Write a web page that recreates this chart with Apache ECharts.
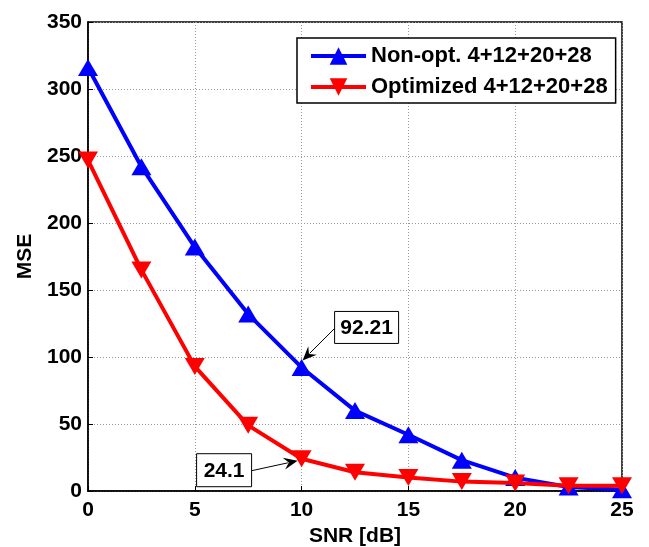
<!DOCTYPE html>
<html><head><meta charset="utf-8">
<script src="https://cdn.jsdelivr.net/npm/echarts@6/dist/echarts.min.js"></script>
<style>html,body{margin:0;padding:0;background:#fff}#c{width:649px;height:547px}</style>
</head><body><div id="c"></div>
<script>
const snr = [0, 2.5, 5, 7.5, 10, 12.5, 15, 17.5, 20, 22.5, 25];
const nonOpt = [316, 242, 182, 132, 92.21, 60, 42, 23, 10, 3, 1];
const optimized = [247, 165, 93, 49, 24.1, 14, 10, 7, 6, 4, 4];
const seriesNames = ['Non-opt. 4+12+20+28', 'Optimized 4+12+20+28'];
const xTicks = {min: 0, max: 25, interval: 5};
const yTicks = {min: 0, max: 350, interval: 50};
const annotations = [
  {x: 10, y: 92.21, text: '92.21'},
  {x: 10, y: 24.1, text: '24.1'}
];

const FONT = 'Liberation Sans, Arial, sans-serif';
const chart = echarts.init(document.getElementById('c'), null, {renderer: 'canvas'});
const pair = (xs, ys) => xs.map((x, i) => [x, ys[i]]);
const axisCommon = {
  axisLine: {show: true, onZero: false, lineStyle: {color: '#000', width: 1.5}},
  axisTick: {show: true, inside: true, length: 5, lineStyle: {color: '#000'}},
  splitLine: {show: true, lineStyle: {color: '#999', type: [1, 2], width: 1}}
};
const nameStyle = {color: '#000', fontFamily: FONT, fontWeight: 'bold', fontSize: 21};
chart.setOption({
  animation: false,
  backgroundColor: '#fff',
  grid: {left: 88, right: 27, top: 22, bottom: 56, containLabel: false, outerBoundsMode: 'none',
    show: true, borderColor: '#000', borderWidth: 1.5, backgroundColor: 'transparent'},
  xAxis: Object.assign({type: 'value', min: xTicks.min, max: xTicks.max, interval: xTicks.interval,
    name: 'SNR [dB]', nameLocation: 'middle', nameGap: 33, nameTextStyle: nameStyle}, axisCommon,
    {axisLabel: {color: '#000', fontFamily: FONT, fontWeight: 'bold', fontSize: 21, margin: 9}}),
  yAxis: Object.assign({type: 'value', min: yTicks.min, max: yTicks.max, interval: yTicks.interval,
    name: 'MSE', nameLocation: 'middle', nameGap: 51, nameRotate: 90, nameTextStyle: nameStyle}, axisCommon,
    {axisLabel: {color: '#000', fontFamily: FONT, fontWeight: 'bold', fontSize: 21, margin: 6}}),
  legend: {
    left: 297, top: 38, orient: 'vertical',
    backgroundColor: '#fff', borderColor: '#000', borderWidth: 1.5,
    padding: [7, 8, 5, 12], itemGap: 9, itemWidth: 55, itemHeight: 22,
    lineStyle: {width: 4},
    textStyle: {color: '#000', fontFamily: FONT, fontWeight: 'bold', fontSize: 22},
    data: seriesNames
  },
  series: [
    {name: seriesNames[0], type: 'line', data: pair(snr, nonOpt), color: '#0000ff',
     lineStyle: {width: 4}, symbol: 'triangle', symbolSize: [20, 17], itemStyle: {color: '#0000ff'}, z: 3},
    {name: seriesNames[1], type: 'line', data: pair(snr, optimized), color: '#ff0000',
     lineStyle: {width: 4}, symbol: 'triangle', symbolRotate: 180, symbolSize: [20, 17], itemStyle: {color: '#ff0000'}, z: 4}
  ]
});

function arrowGraphics(from, to) {
  const dx = to[0] - from[0], dy = to[1] - from[1];
  const len = Math.hypot(dx, dy), ux = dx / len, uy = dy / len;
  const hl = 14, hw = 6;
  const bx = to[0] - ux * hl, by = to[1] - uy * hl;
  const px = -uy, py = ux;
  return [
    {type: 'line', shape: {x1: from[0], y1: from[1], x2: bx + ux * 4, y2: by + uy * 4}, style: {stroke: '#000', lineWidth: 1}, z: 20},
    {type: 'polygon', shape: {points: [[to[0], to[1]], [bx + px * hw, by + py * hw], [bx + ux * 5, by + uy * 5], [bx - px * hw, by - py * hw]]}, style: {fill: '#000'}, z: 20}
  ];
}
function box(bx, by, bw, bh, text) {
  return [
    {type: 'rect', shape: {x: bx, y: by, width: bw, height: bh}, style: {fill: '#fff', stroke: '#000', lineWidth: 1}, z: 20},
    {type: 'text', x: bx + bw / 2, y: by + bh / 2 + 1, style: {text: text, fill: '#000', font: 'bold 21px ' + FONT, align: 'center', verticalAlign: 'middle'}, z: 21}
  ];
}
const g = [];
const p1 = chart.convertToPixel({gridIndex: 0}, [annotations[0].x, annotations[0].y]);
{
  const bx = p1[0] + 33, by = p1[1] - 56, bw = 64, bh = 32;
  g.push(...box(bx, by, bw, bh, annotations[0].text));
  g.push(...arrowGraphics([bx, by + 17], [p1[0] + 1, p1[1] - 7]));
}
const p2 = chart.convertToPixel({gridIndex: 0}, [annotations[1].x, annotations[1].y]);
{
  const bx = p2[0] - 105, by = p2[1] - 5, bw = 55, bh = 33;
  g.push(...box(bx, by, bw, bh, annotations[1].text));
  g.push(...arrowGraphics([bx + bw, by + 17], [p2[0] - 4, p2[1] + 2]));
}
chart.setOption({graphic: g});
</script></body></html>
